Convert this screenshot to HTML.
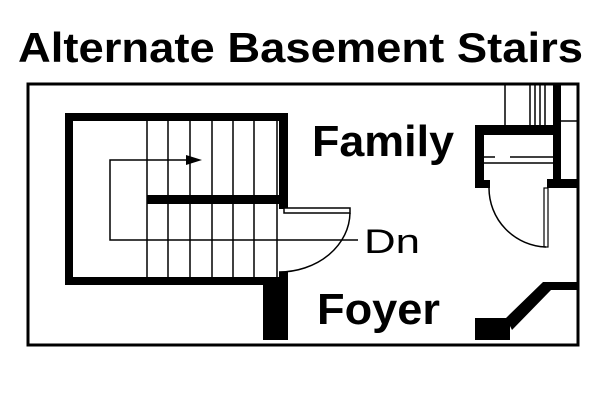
<!DOCTYPE html>
<html><head><style>body{margin:0;background:#fff}svg{display:block}</style></head><body>
<svg width="600" height="400" viewBox="0 0 600 400" xmlns="http://www.w3.org/2000/svg">
<rect width="600" height="400" fill="#fff"/>
<text x="18" y="62" font-family="Liberation Sans, sans-serif" font-weight="bold" font-size="42" textLength="565" lengthAdjust="spacingAndGlyphs">Alternate Basement Stairs</text>
<rect x="28" y="84" width="550" height="261" fill="none" stroke="#000" stroke-width="3"/>
<g fill="#000">
<rect x="65" y="113" width="223" height="8"/>
<rect x="65" y="113" width="8" height="172"/>
<rect x="65" y="277" width="223" height="8"/>
<rect x="279" y="113" width="9" height="96"/>
<rect x="279" y="272" width="9" height="13"/>
<rect x="263" y="277" width="25" height="63"/>
<rect x="147" y="195" width="132" height="9"/>
</g>
<g stroke="#000" stroke-width="1.5">
<line x1="147" y1="121" x2="147" y2="277"/><line x1="168" y1="121" x2="168" y2="277"/>
<line x1="190" y1="121" x2="190" y2="277"/><line x1="212" y1="121" x2="212" y2="277"/>
<line x1="233" y1="121" x2="233" y2="277"/><line x1="254" y1="121" x2="254" y2="277"/>
<line x1="277" y1="121" x2="277" y2="277"/>
</g>
<polyline points="358,240 110,240 110,160 190,160" fill="none" stroke="#000" stroke-width="1.5"/>
<polygon points="186,155 202,160 186,165" fill="#000"/>
<rect x="284" y="208" width="66" height="5" fill="#fff" stroke="#000" stroke-width="1.5"/>
<path d="M350,213 A71,60 0 0 1 279,272" fill="none" stroke="#000" stroke-width="1.5"/>
<text x="312" y="156" font-family="Liberation Sans, sans-serif" font-weight="bold" font-size="44" textLength="142" lengthAdjust="spacingAndGlyphs">Family</text>
<text x="364" y="253" font-family="Liberation Sans, sans-serif" font-size="34" textLength="56" lengthAdjust="spacingAndGlyphs">Dn</text>
<text x="317" y="324" font-family="Liberation Sans, sans-serif" font-weight="bold" font-size="44" textLength="123" lengthAdjust="spacingAndGlyphs">Foyer</text>
<g stroke="#000" stroke-width="1.5">
<line x1="505" y1="84" x2="505" y2="125"/>
<line x1="530" y1="84" x2="530" y2="125"/><line x1="535" y1="84" x2="535" y2="125"/>
<line x1="540" y1="84" x2="540" y2="125"/><line x1="545" y1="84" x2="545" y2="125"/>
<line x1="561" y1="121" x2="578" y2="121"/>
<line x1="484" y1="163" x2="553" y2="163"/>
<line x1="484" y1="157" x2="495" y2="157"/><line x1="510" y1="157" x2="553" y2="157"/>
</g>
<g fill="#000">
<rect x="553" y="84" width="8" height="104"/>
<rect x="475" y="125" width="86" height="10"/>
<rect x="475" y="125" width="9" height="63"/>
<rect x="475" y="180" width="15" height="8"/>
<rect x="547" y="179" width="31" height="9"/>
<rect x="543" y="282" width="35" height="8"/>
<polygon points="543,282 551,290 512,330 506,318"/>
<rect x="475" y="318" width="35" height="22"/>
</g>
<rect x="544" y="188" width="4" height="59" fill="#fff" stroke="#000" stroke-width="1.2"/>
<path d="M489,188 A59,59 0 0 0 546,247" fill="none" stroke="#000" stroke-width="1.5"/>
</svg>
</body></html>
